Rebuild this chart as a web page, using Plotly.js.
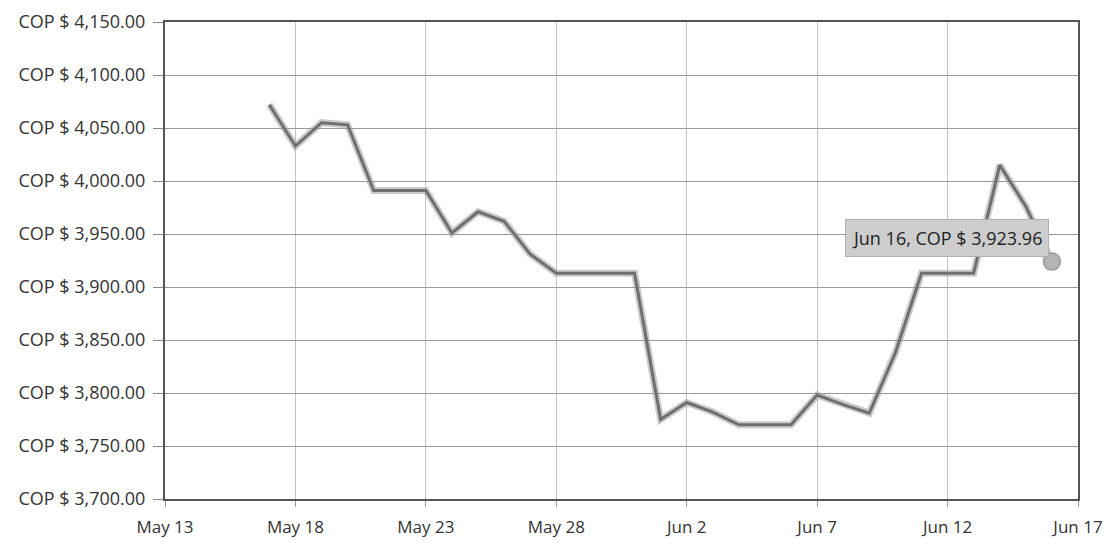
<!DOCTYPE html>
<html>
<head>
<meta charset="utf-8">
<script src="https://cdn.plot.ly/plotly-3.0.1.min.js"></script>
<style>
  html, body { margin: 0; padding: 0; background: #ffffff; }
  #chart { width: 1111px; height: 546px; }
</style>
</head>
<body>
<div id="chart"></div>
<script>
// Dates (daily exchange rate, COP per USD)
const dates = [
  '2022-05-17','2022-05-18','2022-05-19','2022-05-20','2022-05-21','2022-05-22','2022-05-23',
  '2022-05-24','2022-05-25','2022-05-26','2022-05-27','2022-05-28','2022-05-29','2022-05-30',
  '2022-05-31','2022-06-01','2022-06-02','2022-06-03','2022-06-04','2022-06-05','2022-06-06',
  '2022-06-07','2022-06-08','2022-06-09','2022-06-10','2022-06-11','2022-06-12','2022-06-13',
  '2022-06-14','2022-06-15','2022-06-16'
];
const rates = [
  4072, 4033, 4055, 4053, 3991, 3991, 3991,
  3951, 3971, 3962, 3931, 3913, 3913, 3913,
  3913, 3775, 3791, 3782, 3770, 3770, 3770,
  3798, 3789, 3781, 3838, 3913, 3913, 3913,
  4015, 3976, 3923.96
];
const highlightDate = '2022-06-16';
const highlightValue = 3923.96;
const highlightLabel = 'Jun 16, COP $ 3,923.96';

const xRange = ['2022-05-13', '2022-06-17'];
const yRange = [3700, 4150];

const traces = [
  { // soft shadow under the line
    x: dates, y: rates, type: 'scatter', mode: 'lines',
    line: { color: 'rgba(150,150,150,0.5)', width: 7 },
    hoverinfo: 'skip', showlegend: false
  },
  {
    x: dates, y: rates, type: 'scatter', mode: 'lines',
    line: { color: '#6f6f6f', width: 3 },
    showlegend: false
  },
  {
    x: [highlightDate], y: [highlightValue], type: 'scatter', mode: 'markers',
    marker: { size: 17, color: '#b4b4b4', line: { color: '#9a9a9a', width: 1.5 } },
    showlegend: false
  }
];

const layout = {
  width: 1111, height: 546,
  margin: { l: 165, r: 33, t: 22, b: 47 },
  paper_bgcolor: '#ffffff',
  plot_bgcolor: '#ffffff',
  font: { family: 'Open Sans, sans-serif', color: '#333333' },
  showlegend: false,
  xaxis: {
    type: 'date',
    range: xRange,
    tick0: '2022-05-13',
    dtick: 5 * 86400000,
    tickformat: '%b %-d',
    showgrid: true, gridcolor: '#c4c4c4', gridwidth: 1,
    showline: true, linecolor: '#555555', linewidth: 2, mirror: true,
    ticks: 'outside', ticklen: 6, tickcolor: '#999999',
    ticklabelstandoff: 6,
    tickfont: { size: 17, color: '#333333' },
    zeroline: false
  },
  yaxis: {
    range: yRange,
    dtick: 50,
    tickprefix: 'COP $ ',
    tickformat: ',.2f',
    showgrid: true, gridcolor: '#9a9a9a', gridwidth: 1,
    showline: true, linecolor: '#555555', linewidth: 2, mirror: true,
    ticks: 'outside', ticklen: 10, tickcolor: '#888888',
    ticklabelstandoff: 4,
    tickfont: { size: 18, color: '#333333' },
    zeroline: false
  },
  annotations: [{
    x: highlightDate, y: highlightValue, xref: 'x', yref: 'y',
    text: highlightLabel,
    showarrow: true, arrowcolor: 'rgba(0,0,0,0)', arrowwidth: 0.1,
    ax: -105, ay: -24,
    bgcolor: '#cdcdcd', bordercolor: '#b0b0b0', borderwidth: 1, borderpad: 6,
    font: { size: 18, color: '#222222', family: 'Open Sans, sans-serif' }
  }]
};

Plotly.newPlot('chart', traces, layout, { displayModeBar: false, staticPlot: true });
</script>
</body>
</html>
